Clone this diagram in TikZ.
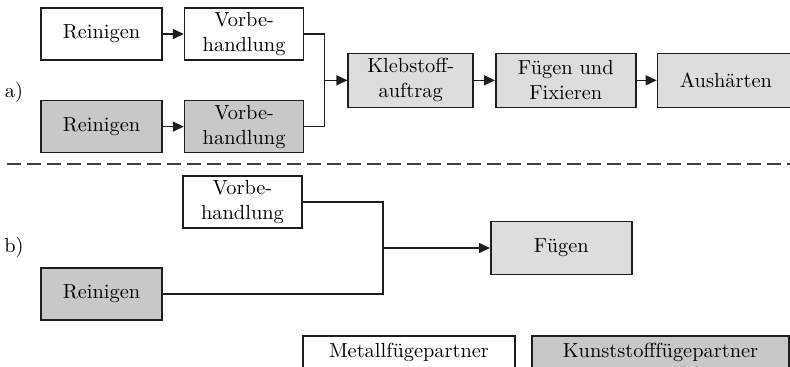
\documentclass[tikz,border=0pt]{standalone}
\usepackage{tikz}
\usetikzlibrary{arrows.meta, positioning, calc}
\definecolor{partGray}{RGB}{200, 200, 200}
\definecolor{stepGray}{RGB}{221, 221, 221}
\definecolor{lineBlack}{RGB}{30, 30, 30}
\tikzset{
  metbox/.style={
    rectangle,
    draw=lineBlack, line width=0.8pt, fill=white,
    minimum width=60.5pt, minimum height=26pt,
    inner sep=0pt, align=center,
    font=\fontsize{10.2}{12.5}\selectfont
  },
  kunbox/.style={
    metbox, fill=partGray
  },
  procbox/.style={
    metbox, fill=stepGray, minimum height=27pt
  },
  legbox/.style={
    metbox, minimum height=24pt, text height=11pt, text depth=13pt, anchor=north
  },
  flowline/.style={
    line width=0.7pt, color=lineBlack
  },
  flowarrow/.style={
    -{Triangle[length=5.5pt,width=5pt]}, flowline
  },
  sepline/.style={
    line width=1pt, color=lineBlack!85, dash pattern=on 7pt off 3pt
  }
}

\begin{document}
\begin{tikzpicture}
  \clip (0,0) rectangle (395pt,-183pt);

  \node[font=\fontsize{10.2}{12.5}\selectfont] (la) at (7pt,-46pt) {a)};
  \node[metbox] (rein1) at (50.75pt,-17pt) {Reinigen};
  \node[metbox, minimum width=59.5pt, right=10.5pt of rein1] (vorb1) {Vorbe-\\handlung};
  \node[kunbox, below=19.5pt of rein1] (rein2) {Reinigen};
  \node[kunbox, minimum width=59.5pt, right=10.5pt of rein2] (vorb2) {Vorbe-\\handlung};

  \coordinate (ja) at ($($(vorb1.east)!0.5!(vorb2.east)$)+(10pt,0)$);
  \node[procbox, minimum width=62.5pt, right=11.5pt of ja] (kleb) {Klebstoff-\\auftrag};
  \node[procbox, minimum width=70pt, right=10.5pt of kleb] (fix) {Fügen und\\Fixieren};
  \node[procbox, minimum width=68.5pt, right=10pt of fix] (aus) {Aushärten};

  \draw[flowarrow] (rein1) -- (vorb1);
  \draw[flowarrow] (rein2) -- (vorb2);
  \draw[flowline] (vorb1.east) -| (ja) |- (vorb2.east);
  \draw[flowarrow] (ja) -- (kleb);
  \draw[flowarrow] (kleb) -- (fix);
  \draw[flowarrow] (fix)  -- (aus);

  \coordinate (sl) at (3.5pt,-82pt);
  \coordinate (sr) at (395pt,-82pt);
  \draw[sepline] (sl) -- (sr);

  \node[font=\fontsize{10.2}{12.5}\selectfont] (lb) at (7pt,-123.5pt) {b)};
  \node[metbox, minimum width=59.5pt] (vorb3) at (121.25pt,-101pt) {Vorbe-\\handlung};
  \node[kunbox] (rein3) at (50.75pt,-147pt) {Reinigen};

  \coordinate (jb) at ($(191.5pt,0)+(0,-124pt)$);
  \node[procbox, minimum width=70.5pt, minimum height=26.5pt, right=53.5pt of jb] (fueg) {Fügen};

  \draw[flowline] (vorb3.east) -| (jb) |- (rein3.east);
  \draw[flowarrow] (jb) -- (fueg);

  \node[legbox, minimum width=106pt] (legmet) at (204.5pt,-167.5pt) {Metallfügepartner};
  \node[legbox, fill=partGray, minimum width=128.5pt] (legkun) at (330.25pt,-167.5pt) {Kunststofffügepartner};
\end{tikzpicture}
\end{document}
